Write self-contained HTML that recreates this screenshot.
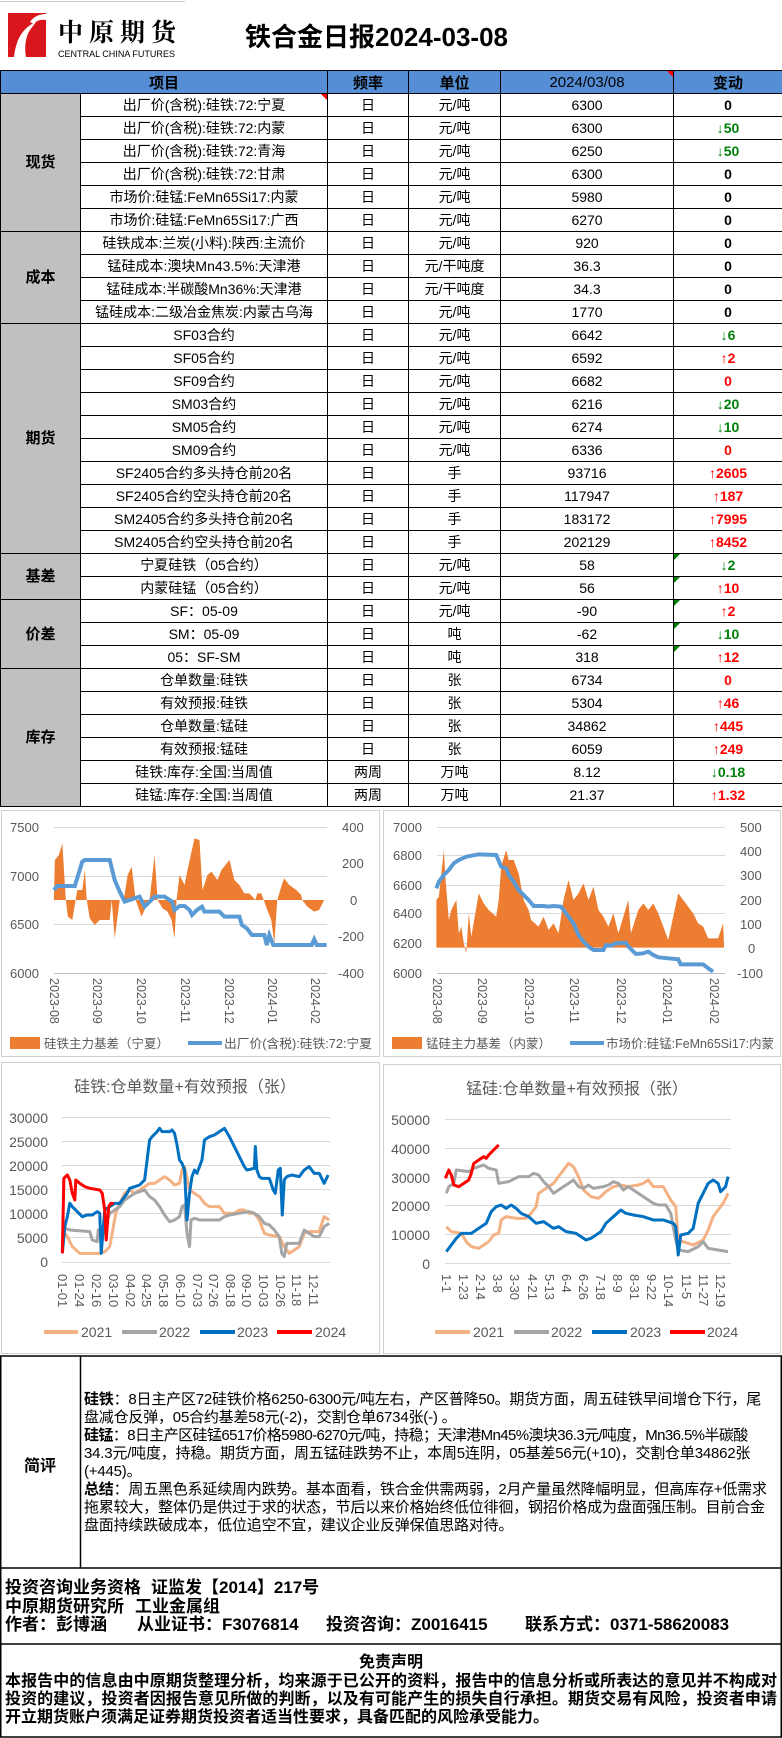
<!DOCTYPE html>
<html><head><meta charset="utf-8"><style>
*{margin:0;padding:0;box-sizing:border-box}
body{width:782px;height:1738px;background:#fff;position:relative;overflow:hidden;font-family:"Liberation Sans","Noto Sans CJK SC",sans-serif;color:#000}
.abs{position:absolute}
table{border-collapse:collapse;table-layout:fixed;position:absolute;left:0;top:70px;width:782px}
td{border:1px solid #000;height:23px;padding:0;text-align:center;font-size:14px;line-height:21px;white-space:nowrap;overflow:hidden;position:relative}
th{border:1px solid #000;height:23px;background:#558ED5;font-size:15px;font-weight:bold;font-family:"Liberation Sans","Noto Sans CJK SC",sans-serif}
td.cat{background:#c0c0c0;font-weight:bold;font-size:15px}
.g{color:#00800a;font-weight:bold}
.r{color:#ff0000;font-weight:bold}
.z{font-weight:bold}
.tri{position:absolute;top:0;width:0;height:0}
.trg{left:0;border-top:6px solid #008000;border-right:6px solid transparent}
.trr{right:0;border-top:6px solid #ff0000;border-left:6px solid transparent}
.ln{position:absolute;left:84px;font-size:15px;white-space:nowrap;line-height:18px;letter-spacing:-0.2px}
.ft{position:absolute;font-size:17px;font-weight:bold;white-space:nowrap;line-height:19px}
.dc{position:absolute;left:5px;width:772px;font-size:16px;font-weight:bold;line-height:18px;text-align:justify}
</style></head><body>

<div class="abs" style="left:0;top:1px;width:185px;height:1px;background:#ccc"></div>
<svg class="abs" style="left:0;top:0" width="200" height="70">
<rect x="8" y="13" width="38" height="44" fill="#d8161c"/>
<path d="M14 57 C16 40 22 28 36 22 L30 30 C26 36 24 46 26 57 Z" fill="#fff"/>
<path d="M30 22 C34 16 40 14 46 14 L46 20 C40 19 36 21 34 24Z" fill="#fff"/>
<text x="58" y="41" font-size="25" font-weight="bold" font-family="Noto Serif CJK SC,serif" textLength="118">中原期货</text>
<text x="58" y="57" font-size="9" font-family="Liberation Sans,sans-serif" textLength="117" lengthAdjust="spacingAndGlyphs">CENTRAL CHINA FUTURES</text>
</svg>
<div class="abs" style="left:245px;top:20px;font-size:26px;font-weight:bold;line-height:34px;white-space:nowrap">铁合金日报2024-03-08</div>

<table>
<colgroup><col style="width:80px"><col style="width:247px"><col style="width:81px"><col style="width:92px"><col style="width:173px"><col style="width:109px"></colgroup>
<tr><th colspan="2">项目</th><th>频率</th><th>单位</th><th style="position:relative;font-weight:normal">2024/03/08<span class="tri trr"></span></th><th>变动</th></tr>
<tr><td class="cat" rowspan="6">现货</td><td>出厂价(含税):硅铁:72:宁夏<span class="tri trr"></span></td><td>日</td><td>元/吨</td><td>6300</td><td class="z">0</td></tr>
<tr><td>出厂价(含税):硅铁:72:内蒙</td><td>日</td><td>元/吨</td><td>6300</td><td class="g">↓50</td></tr>
<tr><td>出厂价(含税):硅铁:72:青海</td><td>日</td><td>元/吨</td><td>6250</td><td class="g">↓50</td></tr>
<tr><td>出厂价(含税):硅铁:72:甘肃</td><td>日</td><td>元/吨</td><td>6300</td><td class="z">0</td></tr>
<tr><td>市场价:硅锰:FeMn65Si17:内蒙</td><td>日</td><td>元/吨</td><td>5980</td><td class="z">0</td></tr>
<tr><td>市场价:硅锰:FeMn65Si17:广西</td><td>日</td><td>元/吨</td><td>6270</td><td class="z">0</td></tr>
<tr><td class="cat" rowspan="4">成本</td><td>硅铁成本:兰炭(小料):陕西:主流价</td><td>日</td><td>元/吨</td><td>920</td><td class="z">0</td></tr>
<tr><td>锰硅成本:澳块Mn43.5%:天津港</td><td>日</td><td>元/干吨度</td><td>36.3</td><td class="z">0</td></tr>
<tr><td>锰硅成本:半碳酸Mn36%:天津港</td><td>日</td><td>元/干吨度</td><td>34.3</td><td class="z">0</td></tr>
<tr><td>锰硅成本:二级冶金焦炭:内蒙古乌海</td><td>日</td><td>元/吨</td><td>1770</td><td class="z">0</td></tr>
<tr><td class="cat" rowspan="10">期货</td><td>SF03合约</td><td>日</td><td>元/吨</td><td>6642</td><td class="g">↓6</td></tr>
<tr><td>SF05合约</td><td>日</td><td>元/吨</td><td>6592</td><td class="r">↑2</td></tr>
<tr><td>SF09合约</td><td>日</td><td>元/吨</td><td>6682</td><td class="r">0</td></tr>
<tr><td>SM03合约</td><td>日</td><td>元/吨</td><td>6216</td><td class="g">↓20</td></tr>
<tr><td>SM05合约</td><td>日</td><td>元/吨</td><td>6274</td><td class="g">↓10</td></tr>
<tr><td>SM09合约</td><td>日</td><td>元/吨</td><td>6336</td><td class="r">0</td></tr>
<tr><td>SF2405合约多头持仓前20名</td><td>日</td><td>手</td><td>93716</td><td class="r">↑2605</td></tr>
<tr><td>SF2405合约空头持仓前20名</td><td>日</td><td>手</td><td>117947</td><td class="r">↑187</td></tr>
<tr><td>SM2405合约多头持仓前20名</td><td>日</td><td>手</td><td>183172</td><td class="r">↑7995</td></tr>
<tr><td>SM2405合约空头持仓前20名</td><td>日</td><td>手</td><td>202129</td><td class="r">↑8452</td></tr>
<tr><td class="cat" rowspan="2">基差</td><td>宁夏硅铁（05合约）</td><td>日</td><td>元/吨</td><td>58</td><td class="g"><span class="tri trg"></span>↓2</td></tr>
<tr><td>内蒙硅锰（05合约）</td><td>日</td><td>元/吨</td><td>56</td><td class="r"><span class="tri trg"></span>↑10</td></tr>
<tr><td class="cat" rowspan="3">价差</td><td>SF：05-09</td><td>日</td><td>元/吨</td><td>-90</td><td class="r"><span class="tri trg"></span>↑2</td></tr>
<tr><td>SM：05-09</td><td>日</td><td>吨</td><td>-62</td><td class="g"><span class="tri trg"></span>↓10</td></tr>
<tr><td>05：SF-SM</td><td>日</td><td>吨</td><td>318</td><td class="r"><span class="tri trg"></span>↑12</td></tr>
<tr><td class="cat" rowspan="6">库存</td><td>仓单数量:硅铁</td><td>日</td><td>张</td><td>6734</td><td class="r">0</td></tr>
<tr><td>有效预报:硅铁</td><td>日</td><td>张</td><td>5304</td><td class="r">↑46</td></tr>
<tr><td>仓单数量:锰硅</td><td>日</td><td>张</td><td>34862</td><td class="r">↑445</td></tr>
<tr><td>有效预报:锰硅</td><td>日</td><td>张</td><td>6059</td><td class="r">↑249</td></tr>
<tr><td>硅铁:库存:全国:当周值</td><td>两周</td><td>万吨</td><td>8.12</td><td class="g">↓0.18</td></tr>
<tr><td>硅锰:库存:全国:当周值</td><td>两周</td><td>万吨</td><td>21.37</td><td class="r">↑1.32</td></tr>
</table>

<svg class="abs" style="left:0;top:0" width="782" height="1738" font-family="Liberation Sans,Noto Sans CJK SC,sans-serif">
<g fill="none" stroke="#d0d0d0" stroke-width="1">
<rect x="1.5" y="810.5" width="378" height="246"/>
<rect x="383.5" y="810.5" width="397" height="246"/>
<rect x="1.5" y="1062.5" width="378" height="291"/>
<rect x="383.5" y="1064.5" width="397" height="289"/>
</g>
<g stroke="#d9d9d9" stroke-width="1">
<line x1="54" x2="327" y1="827.5" y2="827.5"/><line x1="54" x2="327" y1="876.5" y2="876.5"/><line x1="54" x2="327" y1="924.5" y2="924.5"/>
<line x1="54" x2="327" y1="973.5" y2="973.5" stroke="#bfbfbf"/>
<line x1="437" x2="725" y1="827.5" y2="827.5"/><line x1="437" x2="725" y1="855.5" y2="855.5"/><line x1="437" x2="725" y1="885.5" y2="885.5"/><line x1="437" x2="725" y1="913.5" y2="913.5"/><line x1="437" x2="725" y1="943.5" y2="943.5"/>
<line x1="437" x2="725" y1="973.5" y2="973.5" stroke="#bfbfbf"/>
</g>
<g font-size="13" fill="#595959">
<text x="10" y="832">7500</text><text x="10" y="881">7000</text><text x="10" y="929">6500</text><text x="10" y="978">6000</text>
<text x="342" y="832">400</text><text x="342" y="868">200</text><text x="350" y="905">0</text><text x="338" y="941">-200</text><text x="338" y="978">-400</text>
<text x="393" y="832">7000</text><text x="393" y="860">6800</text><text x="393" y="890">6600</text><text x="393" y="918">6400</text><text x="393" y="948">6200</text><text x="393" y="978">6000</text>
<text x="740" y="832">500</text><text x="740" y="856">400</text><text x="740" y="880">300</text><text x="740" y="905">200</text><text x="740" y="929">100</text><text x="748" y="953">0</text><text x="737" y="978">-100</text>
</g>
<g font-size="12.5" fill="#595959">
<text transform="translate(50,978) rotate(90)">2023-08</text><text transform="translate(93,978) rotate(90)">2023-09</text><text transform="translate(137,978) rotate(90)">2023-10</text><text transform="translate(181,978) rotate(90)">2023-11</text><text transform="translate(225,978) rotate(90)">2023-12</text><text transform="translate(268,978) rotate(90)">2024-01</text><text transform="translate(311,978) rotate(90)">2024-02</text>
<text transform="translate(433,978) rotate(90)">2023-08</text><text transform="translate(478,978) rotate(90)">2023-09</text><text transform="translate(525,978) rotate(90)">2023-10</text><text transform="translate(570,978) rotate(90)">2023-11</text><text transform="translate(617,978) rotate(90)">2023-12</text><text transform="translate(663,978) rotate(90)">2024-01</text><text transform="translate(710,978) rotate(90)">2024-02</text>
</g>
<g transform="translate(0,800) scale(0.4987,0.3333)">
<polygon fill="#ed7d31" points="108,300 110,180 118,165 125,130 132,300 136,350 145,360 150,315 155,270 165,270 170,210 174,300 180,355 190,375 200,360 220,360 224,300 230,415 240,300 248,300 256,225 264,200 272,300 284,350 294,315 300,300 310,165 316,300 326,325 336,335 344,360 350,415 354,300 360,225 370,255 376,210 390,115 400,120 406,270 416,225 424,215 436,240 444,210 460,180 470,240 480,255 490,280 500,280 512,300 516,280 524,280 536,330 544,360 550,430 556,300 566,250 570,235 580,255 594,270 604,285 606,300 616,320 630,335 640,330 650,300 655,300"/>
<polyline fill="none" stroke="#5b9bd5" stroke-width="4" vector-effect="non-scaling-stroke" points="108,270 115,258 150,258 165,185 170,180 220,180 230,240 240,275 250,305 260,300 270,295 280,290 290,320 300,305 310,290 330,290 345,305 350,330 360,318 370,318 380,330 385,345 395,330 405,320 410,335 440,335 450,350 480,350 485,375 495,385 505,405 530,405 535,435 540,405 548,435 625,435 630,418 635,435 655,435"/>
</g>
<g transform="translate(0,800) scale(0.4987,0.3333)">
<polygon fill="#ed7d31" points="875,443 875,300 880,290 890,150 893,230 900,360 905,330 915,300 920,400 925,380 930,430 935,460 940,340 945,410 960,280 970,310 980,330 995,350 1000,300 1005,200 1015,150 1020,180 1030,180 1040,220 1050,300 1060,330 1065,360 1080,380 1090,350 1100,390 1110,370 1120,400 1130,300 1140,240 1150,300 1160,280 1170,250 1180,300 1190,260 1200,330 1210,350 1220,380 1230,340 1240,400 1250,350 1260,300 1265,400 1280,330 1290,310 1300,330 1310,310 1320,340 1330,380 1340,420 1350,350 1360,280 1370,300 1380,320 1390,340 1400,370 1410,380 1420,415 1440,415 1450,370 1452,443"/>
<polyline fill="none" stroke="#5b9bd5" stroke-width="4" vector-effect="non-scaling-stroke" points="875,265 880,245 890,225 900,210 910,190 920,180 935,170 960,163 995,165 1005,200 1015,205 1020,225 1030,245 1040,270 1050,285 1060,300 1070,318 1090,318 1100,320 1110,318 1125,320 1135,340 1150,370 1160,405 1170,425 1180,440 1190,450 1210,450 1215,435 1225,437 1235,430 1255,428 1260,440 1275,462 1290,460 1300,455 1310,465 1320,472 1340,475 1360,478 1365,493 1410,493 1420,505 1430,515"/>
</g>
<g font-size="12.5" fill="#595959">
<rect x="10" y="1037" width="30" height="12" fill="#ed7d31"/><text x="44" y="1048">硅铁主力基差（宁夏）</text>
<line x1="188" x2="222" y1="1043" y2="1043" stroke="#5b9bd5" stroke-width="4"/><text x="224" y="1048" textLength="148" lengthAdjust="spacingAndGlyphs">出厂价(含税):硅铁:72:宁夏</text>
<rect x="392" y="1037" width="30" height="12" fill="#ed7d31"/><text x="426" y="1048">锰硅主力基差（内蒙）</text>
<line x1="570" x2="604" y1="1043" y2="1043" stroke="#5b9bd5" stroke-width="4"/><text x="606" y="1048" textLength="168" lengthAdjust="spacingAndGlyphs">市场价:硅锰:FeMn65Si17:内蒙</text>
</g>

<g font-size="16" fill="#595959">
<text x="185" y="1092" text-anchor="middle">硅铁:仓单数量+有效预报（张）</text>
<text x="577" y="1094" text-anchor="middle">锰硅:仓单数量+有效预报（张）</text>
</g>
<g stroke="#d9d9d9" stroke-width="1">
<line x1="62" x2="330" y1="1117.5" y2="1117.5"/><line x1="62" x2="330" y1="1141.5" y2="1141.5"/><line x1="62" x2="330" y1="1165.5" y2="1165.5"/><line x1="62" x2="330" y1="1189.5" y2="1189.5"/><line x1="62" x2="330" y1="1213.5" y2="1213.5"/><line x1="62" x2="330" y1="1237.5" y2="1237.5"/><line x1="62" x2="330" y1="1262.5" y2="1262.5"/>
<line x1="445" x2="731" y1="1119.5" y2="1119.5"/><line x1="445" x2="731" y1="1148.5" y2="1148.5"/><line x1="445" x2="731" y1="1177.5" y2="1177.5"/><line x1="445" x2="731" y1="1205.5" y2="1205.5"/><line x1="445" x2="731" y1="1234.5" y2="1234.5"/><line x1="445" x2="731" y1="1263.5" y2="1263.5"/>
</g>
<g font-size="14" fill="#595959" text-anchor="end">
<text x="48" y="1123">30000</text><text x="48" y="1147">25000</text><text x="48" y="1171">20000</text><text x="48" y="1195">15000</text><text x="48" y="1219">10000</text><text x="48" y="1243">5000</text><text x="48" y="1267">0</text>
<text x="430" y="1125">50000</text><text x="430" y="1154">40000</text><text x="430" y="1183">30000</text><text x="430" y="1211">20000</text><text x="430" y="1240">10000</text><text x="430" y="1269">0</text>
</g>
<g font-size="13" fill="#595959">
<text transform="translate(58,1274) rotate(90)">01-01</text><text transform="translate(75,1274) rotate(90)">01-24</text><text transform="translate(92,1274) rotate(90)">02-16</text><text transform="translate(109,1274) rotate(90)">03-10</text><text transform="translate(126,1274) rotate(90)">04-02</text><text transform="translate(142,1274) rotate(90)">04-25</text><text transform="translate(159,1274) rotate(90)">05-18</text><text transform="translate(176,1274) rotate(90)">06-10</text><text transform="translate(193,1274) rotate(90)">07-03</text><text transform="translate(209,1274) rotate(90)">07-26</text><text transform="translate(226,1274) rotate(90)">08-18</text><text transform="translate(242,1274) rotate(90)">09-10</text><text transform="translate(259,1274) rotate(90)">10-03</text><text transform="translate(276,1274) rotate(90)">10-26</text><text transform="translate(292,1274) rotate(90)">11-18</text><text transform="translate(309,1274) rotate(90)">12-11</text>
<text transform="translate(442,1274) rotate(90)">1-1</text><text transform="translate(459,1274) rotate(90)">1-23</text><text transform="translate(476,1274) rotate(90)">2-14</text><text transform="translate(493,1274) rotate(90)">3-8</text><text transform="translate(510,1274) rotate(90)">3-30</text><text transform="translate(528,1274) rotate(90)">4-21</text><text transform="translate(545,1274) rotate(90)">5-13</text><text transform="translate(562,1274) rotate(90)">6-4</text><text transform="translate(579,1274) rotate(90)">6-26</text><text transform="translate(596,1274) rotate(90)">7-18</text><text transform="translate(613,1274) rotate(90)">8-9</text><text transform="translate(630,1274) rotate(90)">8-31</text><text transform="translate(647,1274) rotate(90)">9-22</text><text transform="translate(664,1274) rotate(90)">10-14</text><text transform="translate(682,1274) rotate(90)">11-5</text><text transform="translate(699,1274) rotate(90)">11-27</text><text transform="translate(716,1274) rotate(90)">12-19</text>
</g>
<g transform="translate(0,1060) scale(0.4987,0.3333)" fill="none" stroke-width="3" stroke-linejoin="round">
<polyline vector-effect="non-scaling-stroke" stroke="#f4b183" points="125,510 135,530 145,560 160,580 200,580 210,575 220,560 225,520 232,460 240,430 250,400 260,390 270,400 280,390 290,380 300,370 310,370 320,360 330,350 340,360 350,375 360,370 365,330 370,320 380,390 390,400 400,410 410,430 420,440 440,440 450,460 460,460 470,460 480,450 490,450 500,460 510,460 520,480 530,520 540,525 560,530 570,560 580,580 590,570 600,560 610,520 620,515 640,515 650,470 660,480"/>
<polyline vector-effect="non-scaling-stroke" stroke="#a5a5a5" points="125,500 130,505 140,510 180,515 185,540 195,545 197,510 210,500 220,460 230,450 240,440 250,420 260,410 270,400 290,390 300,410 310,420 320,440 330,465 340,485 350,480 360,470 365,440 370,435 375,520 380,560 383,480 390,475 400,480 440,480 450,470 460,465 480,460 500,455 510,460 520,470 530,490 540,495 550,510 560,530 565,580 570,590 575,550 600,550 610,510 620,520 630,530 640,530 650,500 660,490"/>
<polyline vector-effect="non-scaling-stroke" stroke="#0070c0" points="125,580 130,500 135,470 140,430 145,440 155,455 165,470 175,465 185,465 195,455 200,460 203,580 210,450 220,440 230,430 240,430 245,420 255,400 260,385 270,380 280,375 290,360 295,300 300,240 305,230 315,215 320,205 325,215 340,215 345,210 350,220 355,255 360,300 365,310 370,330 375,480 380,400 385,350 390,330 395,340 400,320 405,300 410,240 420,230 430,225 440,215 450,205 460,230 470,260 480,290 490,320 495,330 510,325 512,260 515,330 520,350 525,355 540,355 548,390 552,400 558,330 562,325 566,465 570,360 575,350 585,345 600,350 610,330 620,320 630,340 640,340 650,370 658,345"/>
<polyline vector-effect="non-scaling-stroke" stroke="#ff0000" points="125,580 128,355 135,345 140,360 145,400 150,420 152,360 160,370 170,380 180,385 200,390 205,400 210,450 213,540 218,440 222,430 228,430"/>
<polyline vector-effect="non-scaling-stroke" stroke="#f4b183" points="895,500 905,515 925,520 935,545 945,560 960,565 970,555 980,545 990,525 1000,520 1005,480 1015,470 1035,475 1055,475 1065,460 1075,440 1080,400 1090,390 1100,380 1110,370 1120,350 1130,330 1140,310 1150,320 1160,350 1170,390 1185,410 1200,415 1215,395 1230,380 1245,375 1260,380 1280,375 1290,370 1300,360 1310,380 1330,380 1345,420 1355,440 1360,540 1370,545 1390,555 1410,540 1420,510 1430,470 1440,450 1450,430 1460,400"/>
<polyline vector-effect="non-scaling-stroke" stroke="#a5a5a5" points="895,400 900,380 910,370 915,330 940,335 950,325 970,315 980,325 995,330 1000,370 1020,365 1040,350 1060,350 1070,340 1080,345 1090,365 1100,380 1110,400 1120,390 1130,380 1140,370 1150,360 1160,380 1170,385 1180,375 1190,385 1210,380 1220,375 1230,365 1240,370 1250,390 1260,380 1270,390 1280,400 1290,410 1300,420 1310,430 1320,435 1335,435 1345,460 1355,540 1360,570 1380,575 1400,560 1410,545 1420,565 1440,570 1460,575"/>
<polyline vector-effect="non-scaling-stroke" stroke="#0070c0" points="895,575 905,555 915,535 925,520 945,520 955,510 965,500 975,490 985,455 995,440 1005,435 1015,445 1025,435 1035,445 1045,460 1060,470 1075,490 1090,485 1100,495 1110,505 1120,500 1135,515 1155,520 1165,530 1175,540 1185,535 1195,525 1205,515 1215,490 1230,470 1245,450 1255,460 1270,465 1290,470 1310,480 1330,480 1350,490 1355,500 1360,585 1365,525 1380,520 1390,505 1400,430 1410,400 1420,370 1430,360 1440,370 1445,395 1455,380 1460,350"/>
<polyline vector-effect="non-scaling-stroke" stroke="#ff0000" points="893,355 900,330 905,345 910,375 920,380 930,370 940,360 945,340 950,310 960,300 970,290 975,295 980,285 990,270 1000,255"/>
</g>
<g font-size="14" fill="#595959">
<line x1="44" x2="78" y1="1332" y2="1332" stroke="#f4b183" stroke-width="4"/><text x="81" y="1337">2021</text>
<line x1="122" x2="157" y1="1332" y2="1332" stroke="#a5a5a5" stroke-width="4"/><text x="159" y="1337">2022</text>
<line x1="200" x2="235" y1="1332" y2="1332" stroke="#0070c0" stroke-width="4"/><text x="237" y="1337">2023</text>
<line x1="277" x2="312" y1="1332" y2="1332" stroke="#ff0000" stroke-width="4"/><text x="315" y="1337">2024</text>
<line x1="435" x2="470" y1="1332" y2="1332" stroke="#f4b183" stroke-width="4"/><text x="473" y="1337">2021</text>
<line x1="514" x2="549" y1="1332" y2="1332" stroke="#a5a5a5" stroke-width="4"/><text x="551" y="1337">2022</text>
<line x1="592" x2="627" y1="1332" y2="1332" stroke="#0070c0" stroke-width="4"/><text x="630" y="1337">2023</text>
<line x1="670" x2="705" y1="1332" y2="1332" stroke="#ff0000" stroke-width="4"/><text x="707" y="1337">2024</text>
</g>
<g stroke="#000" stroke-width="1.5">
<line x1="0" x2="782" y1="1356" y2="1356"/>
<line x1="0" x2="782" y1="1568" y2="1568"/>
<line x1="0" x2="782" y1="1644" y2="1644"/>
<line x1="0" x2="782" y1="1737" y2="1737"/>
<line x1="80.5" x2="80.5" y1="1356" y2="1568"/>
<line x1="0.75" x2="0.75" y1="1356" y2="1737"/>
<line x1="781.25" x2="781.25" y1="1356" y2="1737"/>
</g>
</svg>

<div class="abs" style="left:0;top:1452px;width:80px;text-align:center;font-size:16px;font-weight:bold">简评</div>
<div class="ln" style="top:1391px"><b>硅铁</b>：8日主产区72硅铁价格6250-6300元/吨左右，产区普降50。期货方面，周五硅铁早间增仓下行，尾</div>
<div class="ln" style="top:1409px">盘减仓反弹，05合约基差58元(-2)，交割仓单6734张(-) 。</div>
<div class="ln" style="top:1427px;letter-spacing:-0.6px"><b>硅锰</b>：8日主产区硅锰6517价格5980-6270元/吨，持稳；天津港Mn45%澳块36.3元/吨度，Mn36.5%半碳酸</div>
<div class="ln" style="top:1445px">34.3元/吨度，持稳。期货方面，周五锰硅跌势不止，本周5连阴，05基差56元(+10)，交割仓单34862张</div>
<div class="ln" style="top:1463px">(+445)。</div>
<div class="ln" style="top:1481px"><b>总结</b>：周五黑色系延续周内跌势。基本面看，铁合金供需两弱，2月产量虽然降幅明显，但高库存+低需求</div>
<div class="ln" style="top:1499px">拖累较大，整体仍是供过于求的状态，节后以来价格始终低位徘徊，钢招价格成为盘面强压制。目前合金</div>
<div class="ln" style="top:1517px">盘面持续跌破成本，低位追空不宜，建议企业反弹保值思路对待。</div>

<div class="ft" style="left:5px;top:1578px">投资咨询业务资格</div><div class="ft" style="left:151px;top:1578px">证监发【2014】217号</div>
<div class="ft" style="left:5px;top:1597px">中原期货研究所</div><div class="ft" style="left:135px;top:1597px">工业金属组</div>
<div class="ft" style="left:5px;top:1615px">作者：彭博涵</div><div class="ft" style="left:137px;top:1615px">从业证书：F3076814</div><div class="ft" style="left:326px;top:1615px">投资咨询：Z0016415</div><div class="ft" style="left:525px;top:1615px">联系方式：0371-58620083</div>

<div class="dc" style="top:1654px;text-align:center">免责声明</div>
<div class="dc" style="top:1673px">本报告中的信息由中原期货整理分析，均来源于已公开的资料，报告中的信息分析或所表达的意见并不构成对投资的建议，投资者因报告意见所做的判断，以及有可能产生的损失自行承担。期货交易有风险，投资者申请开立期货账户须满足证券期货投资者适当性要求，具备匹配的风险承受能力。</div>
</body></html>
